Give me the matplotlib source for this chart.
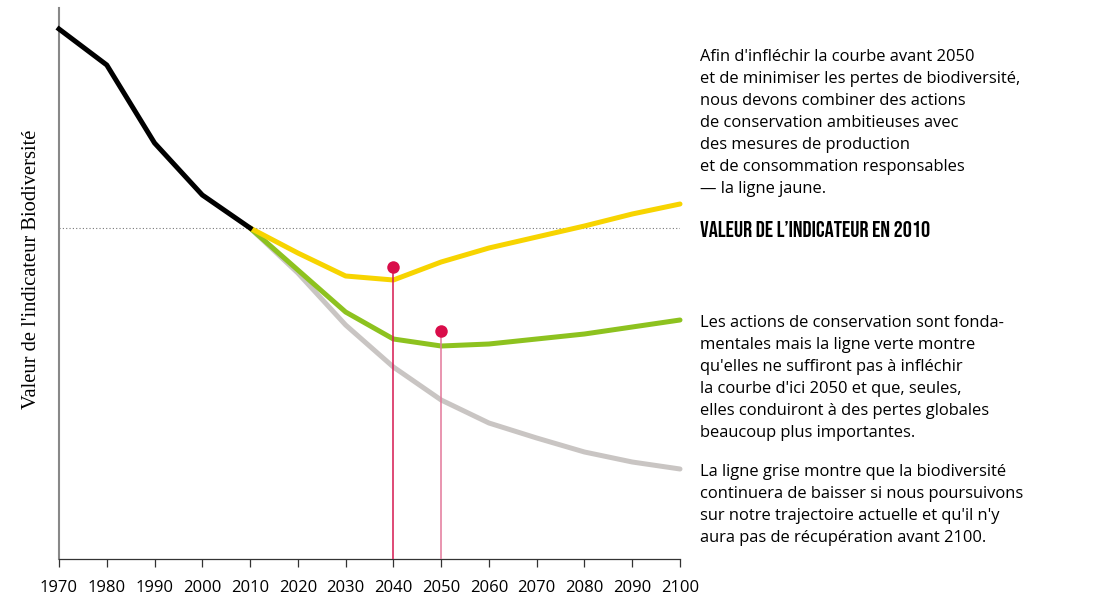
import matplotlib.pyplot as plt

# Indicator values (arbitrary units, 0 = bottom of axis)
hist_years = [1970, 1980, 1990, 2000, 2010]
hist_values = [530, 494, 416, 364, 331]

proj_years = [2010, 2020, 2030, 2040, 2050, 2060, 2070, 2080, 2090, 2100]
yellow_values = [331, 306, 283, 279, 297, 311, 322, 333, 345, 355]
green_values = [331, 289, 247, 220, 213, 215, 220, 225, 232, 239]
gray_values = [331, 286, 234, 192, 159, 136, 121, 107, 97, 90]

ref_2010 = 331
marker_years = [2040, 2050]
marker_values = [292, 228]

tick_years = list(range(1970, 2101, 10))

text_top = ("Afin d'infléchir la courbe avant 2050\n"
            "et de minimiser les pertes de biodiversité,\n"
            "nous devons combiner des actions\n"
            "de conservation ambitieuses avec\n"
            "des mesures de production\n"
            "et de consommation responsables\n"
            "— la ligne jaune.")
text_ref = "VALEUR DE L\u2019INDICATEUR EN 2010"
text_green = ("Les actions de conservation sont fonda-\n"
              "mentales mais la ligne verte montre\n"
              "qu'elles ne suffiront pas à infléchir\n"
              "la courbe d'ici 2050 et que, seules,\n"
              "elles conduiront à des pertes globales\n"
              "beaucoup plus importantes.")
text_gray = ("La ligne grise montre que la biodiversité\n"
             "continuera de baisser si nous poursuivons\n"
             "sur notre trajectoire actuelle et qu'il n'y\n"
             "aura pas de récupération avant 2100.")

body_font = ['Open Sans', 'DejaVu Sans']
head_font = ['Bebas Neue', 'Oswald', 'DejaVu Sans']

W, H = 1096, 596
fig = plt.figure(figsize=(W / 100, H / 100), dpi=100)
ax = fig.add_axes([59 / W, 1 - 559 / H, (680 - 59) / W, (559 - 8) / H])
ax.set_xlim(1970, 2100)
ax.set_ylim(0, 551)

# reference level in 2010
ax.axhline(ref_2010, color='#777777', lw=0.8, ls=(0, (1, 2)), zorder=1)

ax.plot(proj_years, gray_values, color='#c9c5c3', lw=3.6, solid_capstyle='round',
        solid_joinstyle='round', clip_on=False, zorder=2)
ax.plot(proj_years, green_values, color='#8dc21f', lw=3.6, solid_capstyle='round',
        solid_joinstyle='round', clip_on=False, zorder=3)
ax.plot(proj_years, yellow_values, color='#f7d400', lw=3.6, solid_capstyle='round',
        solid_joinstyle='round', clip_on=False, zorder=4)
ax.plot(hist_years, hist_values, color='black', lw=3.6, solid_joinstyle='round',
        clip_on=False, zorder=5)

# 2040 / 2050 markers with drop lines
for yr, val, lc in zip(marker_years, marker_values, ['#d6174f', '#e3789a']):
    ax.plot([yr, yr], [0, val], color=lc, lw=1.1, zorder=6)
    ax.plot(yr, val, 'o', color='#d90d4a', ms=9, mec='none', zorder=7)

for side in ['top', 'right']:
    ax.spines[side].set_visible(False)
ax.spines['left'].set_color('#888888')
ax.spines['left'].set_linewidth(1.5)
ax.spines['bottom'].set_color('#333333')
ax.spines['bottom'].set_linewidth(0.9)

ax.set_yticks([])
ax.set_xticks(tick_years)
ax.set_xticklabels([str(y) for y in tick_years], fontsize=12, family=body_font)
ax.tick_params(axis='x', length=6, width=0.9, color='#333333', pad=9)

fig.text(32 / W, 1 - 269 / H, "Valeur de l'indicateur Biodiversité", rotation=90,
         ha='center', va='center', fontsize=14.8, family='Liberation Serif')

tx = 700 / W
fig.text(tx, 1 - 123 / H, text_top, ha='left', va='center', fontsize=11.9,
         family=body_font, linespacing=1.5)
fig.text(tx, 1 - 229 / H, text_ref, ha='left', va='center', fontsize=16.4,
         family=head_font)
fig.text(tx, 1 - 378 / H, text_green, ha='left', va='center', fontsize=11.9,
         family=body_font, linespacing=1.5)
fig.text(tx, 1 - 505 / H, text_gray, ha='left', va='center', fontsize=11.9,
         family=body_font, linespacing=1.5)

fig.savefig('out.png', dpi=100)
